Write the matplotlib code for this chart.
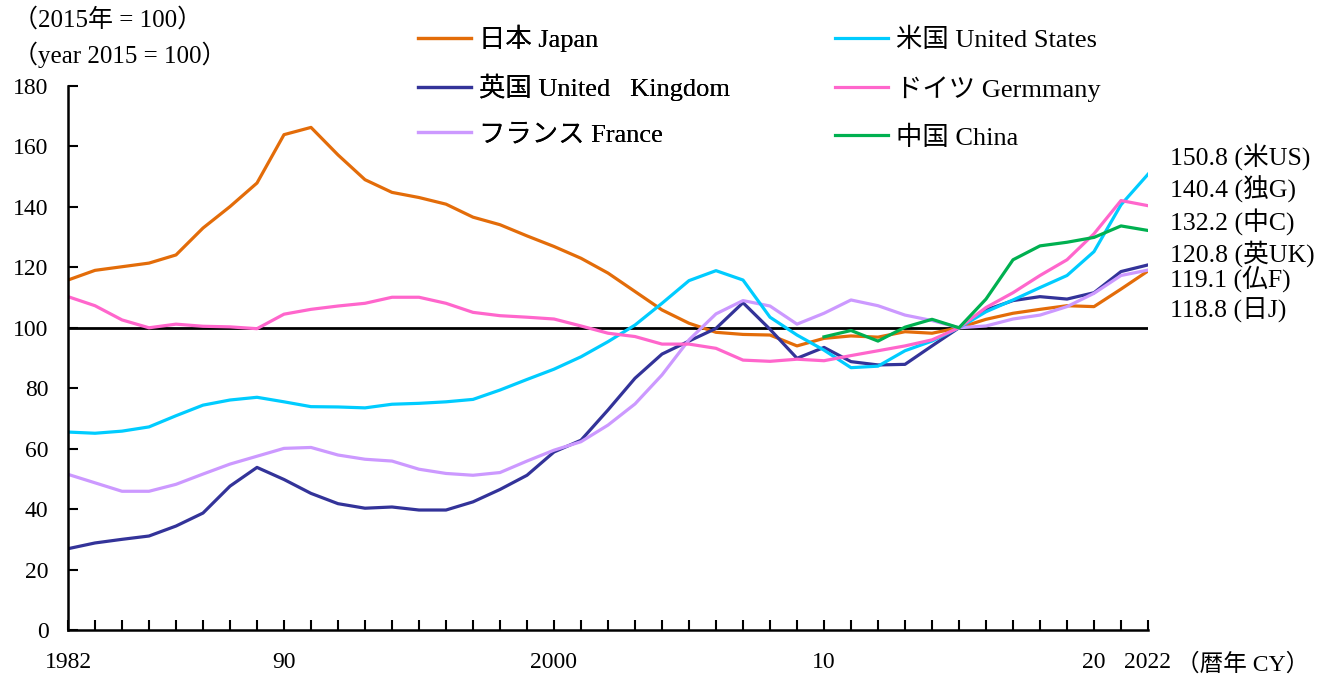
import matplotlib
matplotlib.use("Agg")
import matplotlib.pyplot as plt
import numpy as np

plt.rcParams['font.family'] = ['Liberation Serif', 'Noto Sans CJK JP', 'DejaVu Sans']

years = list(range(1982, 2023))

japan = [115.8, 119.0, 120.2, 121.4, 124.1, 133.0, 140.1, 147.9, 163.9, 166.3,
         157.2, 149.0, 144.8, 143.1, 140.9, 136.6, 134.1, 130.4, 126.9, 123.0,
         118.1, 112.0, 105.9, 101.5, 98.5, 97.8, 97.6, 94.0, 96.5, 97.3,
         96.9, 98.7, 98.2, 100.0, 102.8, 104.8, 106.1, 107.3, 107.0, 112.8, 118.8]

us = [65.5, 65.1, 65.8, 67.2, 70.9, 74.4, 76.1, 77.0, 75.5, 73.9,
      73.8, 73.5, 74.7, 75.0, 75.5, 76.3, 79.4, 82.9, 86.3, 90.4,
      95.4, 100.9, 108.1, 115.6, 118.9, 115.8, 103.5, 97.6, 92.6, 86.8,
      87.3, 92.4, 95.6, 100.0, 105.3, 109.2, 113.3, 117.3, 125.2, 140.7, 150.8]

uk = [26.9, 28.8, 30.0, 31.1, 34.4, 38.7, 47.6, 53.8, 49.8, 45.2,
      41.8, 40.3, 40.7, 39.7, 39.7, 42.4, 46.5, 51.2, 58.9, 62.8,
      72.8, 83.3, 91.3, 95.6, 99.8, 108.3, 99.5, 89.9, 93.5, 88.8,
      87.7, 87.9, 94.0, 100.0, 105.9, 109.0, 110.3, 109.5, 111.6, 118.6, 120.8]

germany = [110.3, 107.3, 102.6, 100.0, 101.2, 100.5, 100.3, 99.7, 104.5, 106.1,
           107.2, 108.1, 110.1, 110.1, 108.1, 105.1, 104.0, 103.5, 102.9, 100.6,
           98.2, 97.1, 94.6, 94.6, 93.2, 89.3, 88.9, 89.6, 89.1, 90.8,
           92.4, 94.0, 96.0, 100.0, 106.7, 111.6, 117.3, 122.5, 131.1, 142.1, 140.4]

france = [51.5, 48.7, 45.9, 45.9, 48.2, 51.6, 54.9, 57.5, 60.1, 60.4,
          57.9, 56.5, 55.9, 53.2, 51.8, 51.2, 52.1, 55.9, 59.5, 62.3,
          67.8, 74.8, 84.4, 96.0, 104.6, 109.0, 107.2, 101.2, 104.8, 109.2,
          107.3, 104.2, 102.4, 100.0, 100.6, 102.9, 104.2, 107.0, 111.4, 117.3, 119.1]

china_years = list(range(2010, 2023))
china = [97.0, 99.1, 95.6, 100.2, 102.8, 100.0, 109.5, 122.5, 127.1, 128.3,
         129.9, 133.7, 132.2]

names = ["日本 Japan", "英国 United\u2002 Kingdom", "フランス France",
         "米国 United States", "ドイツ Germmany", "中国 China"]
short = ["日J", "英UK", "仏F", "米US", "独G", "中C"]
colors = ["#E36C09", "#333399", "#CC99FF", "#00CCFF", "#FF66CC", "#00B050"]

xtick_major = [1982, 1990, 2000, 2010, 2020, 2022]
xtick_labels = ["1982", "90", "2000", "10", "20", "2022"]

FS_TICK = 17
FS_LEG = 19
FS_NOTE = 18
FS_END = 18.5

fig = plt.figure(figsize=(13.25, 6.75), dpi=100)
ax = fig.add_axes([68/1325, 1 - 630/675, (1148-68)/1325, (630-86)/675])

series = [(years, japan), (years, uk), (years, france),
          (years, us), (years, germany), (china_years, china)]
handles = []
for (xs, ys), c, n in zip(series, colors, names):
    h, = ax.plot(xs, ys, color=c, lw=2.3, label=n, solid_joinstyle='round')
    handles.append(h)

ax.axhline(100, color='black', lw=2, zorder=1)

ax.set_xlim(1982, 2022)
ax.set_ylim(0, 180)
ax.set_yticks(range(0, 181, 20))
ax.set_xticks(years, minor=True)
ax.set_xticks(xtick_major)
ax.set_xticklabels(xtick_labels)
ax.tick_params(axis='both', which='both', direction='in', length=7, width=1.5,
               labelsize=FS_TICK, colors='black')
ax.tick_params(axis='x', which='major', pad=16)
ax.tick_params(axis='y', pad=14)
for s in ['top', 'right']:
    ax.spines[s].set_visible(False)
for s in ['left', 'bottom']:
    ax.spines[s].set_linewidth(1.8)

ax.annotate("（暦年 CY）", xy=(1.0, 0), xycoords='axes fraction',
            xytext=(20, -17), textcoords='offset points', ha='left', va='top',
            fontsize=FS_TICK)

fig.text(13/1325, 1 - 20/675, "（2015年 = 100）", fontsize=FS_NOTE, va='center', ha='left')
fig.text(13/1325, 1 - 55/675, "（year 2015 = 100）", fontsize=FS_NOTE, va='center', ha='left')

leg_kw = dict(loc='upper left', frameon=False, fontsize=FS_LEG, handlelength=2.0,
              handletextpad=0.3, labelspacing=0.82, borderaxespad=0, borderpad=0)
leg1 = fig.legend(handles=handles[:3], bbox_to_anchor=(418/1325, 1 - 25/675), **leg_kw)
leg2 = fig.legend(handles=handles[3:], bbox_to_anchor=(835/1325, 1 - 28/675),
                  **{**leg_kw, 'labelspacing': 0.9})
fig.add_artist(leg1)

# right-side end labels
label_order = [3, 4, 5, 1, 2, 0]
label_y = [156.5, 145.9, 134.9, 124.6, 116.3, 105.7]
for idx, ly in zip(label_order, label_y):
    val = series[idx][1][-1]
    ax.text(2022.8, ly, f"{val:.1f} ({short[idx]})", fontsize=FS_END, va='center',
            ha='left', clip_on=False)

fig.savefig("out.png", dpi=100)
